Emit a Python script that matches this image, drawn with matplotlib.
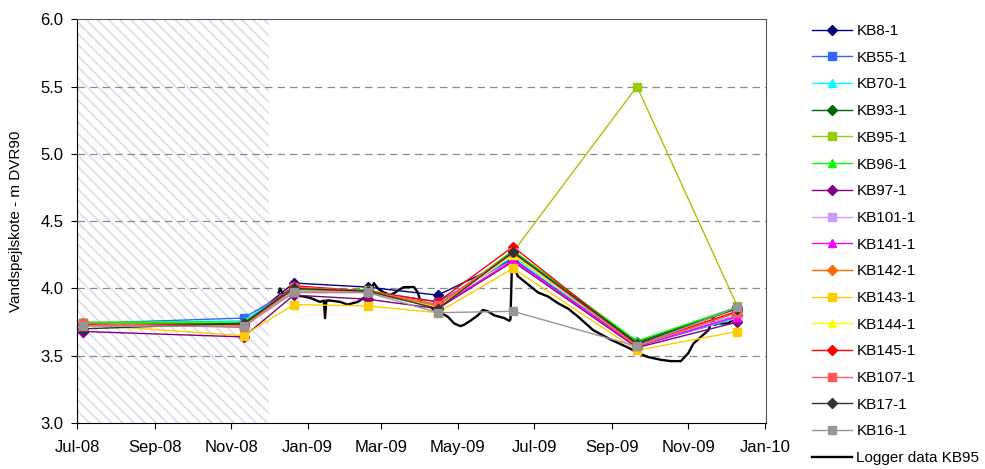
import matplotlib
matplotlib.use("Agg")
import matplotlib.pyplot as plt
import matplotlib.dates as mdates
import numpy as np
import pandas as pd

plt.rcParams['font.family'] = ['Liberation Sans', 'DejaVu Sans']
plt.rcParams['hatch.linewidth'] = 1.3

# measurement rounds
dates = pd.to_datetime(['2008-07-06', '2008-11-11', '2008-12-21', '2009-02-18',
                        '2009-04-15', '2009-06-14', '2009-09-21', '2009-12-10'])

kb8 = [3.73, 3.74, 4.04, 4.01, 3.95, 4.22, 3.57, 3.80]
kb55 = [3.74, 3.78, 4.00, 3.98, 3.90, 4.22, 3.57, 3.78]
kb70 = [3.74, 3.76, 4.00, 3.98, 3.88, 4.24, 3.58, 3.78]
kb93 = [3.74, 3.74, 3.99, 3.99, 3.86, 4.28, 3.60, 3.86]
kb95 = [3.74, 3.73, 3.98, 3.99, 3.87, 4.27, 5.50, 3.87]
kb96 = [3.75, 3.75, 3.99, 3.99, 3.87, 4.28, 3.61, 3.86]
kb97 = [3.68, 3.64, 3.95, 3.92, 3.85, 4.20, 3.56, 3.75]
kb101 = [3.73, 3.73, 3.98, 3.97, 3.86, 4.25, 3.58, 3.80]
kb141 = [3.73, 3.72, 3.97, 3.97, 3.86, 4.21, 3.57, 3.79]
kb142 = [3.73, 3.72, 4.00, 3.97, 3.87, 4.26, 3.58, 3.83]
kb143 = [3.73, 3.65, 3.88, 3.87, 3.82, 4.15, 3.54, 3.68]
kb144 = [3.73, 3.72, 3.97, 3.97, 3.86, 4.25, 3.58, 3.83]
kb145 = [3.73, 3.73, 4.02, 3.98, 3.90, 4.31, 3.58, 3.83]
kb107 = [3.74, 3.71, 4.01, 3.98, 3.88, 4.27, 3.57, 3.82]
kb17 = [3.70, 3.74, 4.00, 3.98, 3.85, 4.27, 3.59, 3.85]
kb16 = [3.72, 3.72, 3.97, 3.97, 3.82, 3.83, 3.57, 3.86]

# logger in KB95
logger_dates = pd.to_datetime([
    '2008-12-09', '2008-12-10', '2008-12-13', '2008-12-21', '2008-12-29', '2009-01-03',
    '2009-01-11', '2009-01-14', '2009-01-15', '2009-01-16', '2009-01-19', '2009-01-27',
    '2009-02-02', '2009-02-10', '2009-02-15', '2009-02-20', '2009-02-23', '2009-02-26',
    '2009-03-03', '2009-03-08', '2009-03-12', '2009-03-15', '2009-03-19', '2009-03-27',
    '2009-03-30', '2009-04-01', '2009-04-07', '2009-04-12', '2009-04-17', '2009-04-23',
    '2009-04-28', '2009-05-03', '2009-05-06', '2009-05-11', '2009-05-17', '2009-05-21',
    '2009-05-25', '2009-05-30', '2009-06-07', '2009-06-11', '2009-06-12', '2009-06-13',
    '2009-06-14', '2009-06-18', '2009-06-26', '2009-07-04', '2009-07-12', '2009-07-20',
    '2009-07-28', '2009-08-05', '2009-08-17', '2009-08-31', '2009-09-14', '2009-09-22',
    '2009-09-30', '2009-10-10', '2009-10-18', '2009-10-26', '2009-11-01', '2009-11-05',
    '2009-11-11', '2009-11-17', '2009-11-21', '2009-11-22', '2009-11-25', '2009-12-03',
    '2009-12-09'])
logger_vals = [
    3.97, 4.00, 3.95, 3.95, 3.94, 3.93,
    3.90, 3.91, 3.78, 3.91, 3.91, 3.90,
    3.88, 3.90, 3.93, 3.97, 4.04, 4.00,
    3.97, 3.95, 3.97, 3.99, 4.01, 4.01,
    3.97, 3.91, 3.88, 3.84, 3.82, 3.79,
    3.74, 3.72, 3.73, 3.76, 3.80, 3.84,
    3.83, 3.80, 3.78, 3.76, 3.77, 4.12,
    4.17, 4.09, 4.03, 3.97, 3.94, 3.89,
    3.85, 3.79, 3.69, 3.62, 3.56, 3.52,
    3.49, 3.47, 3.46, 3.46, 3.52, 3.59,
    3.64, 3.69, 3.79, 3.73, 3.74, 3.74,
    3.79]

series = [
    ('KB8-1', kb8, '#000080', 'D'),
    ('KB55-1', kb55, '#3366FF', 's'),
    ('KB70-1', kb70, '#00FFFF', '^'),
    ('KB93-1', kb93, '#006400', 'D'),
    ('KB95-1', kb95, '#99CC00', 's'),
    ('KB96-1', kb96, '#00FF00', '^'),
    ('KB97-1', kb97, '#800080', 'D'),
    ('KB101-1', kb101, '#CC99FF', 's'),
    ('KB141-1', kb141, '#FF00FF', '^'),
    ('KB142-1', kb142, '#FF6600', 'D'),
    ('KB143-1', kb143, '#FFCC00', 's'),
    ('KB144-1', kb144, '#FFFF00', '^'),
    ('KB145-1', kb145, '#FF0000', 'D'),
    ('KB107-1', kb107, '#FF5B5B', 's'),
    ('KB17-1', kb17, '#333333', 'D'),
    ('KB16-1', kb16, '#969696', 's'),
]

fig = plt.figure(figsize=(9.85, 4.69), dpi=100)
ax = fig.add_axes([0.0782, 0.098, 0.6995, 0.861])

# hatched period before start
ax.axvspan(pd.Timestamp('2008-07-01'), pd.Timestamp('2008-12-01'), facecolor='white',
           edgecolor='#DDDDF3', hatch='\\\\\\', linewidth=0, zorder=0)

for label, vals, col, mk in series:
    ms = 5.5 if mk == 'D' else 6
    ax.plot(dates, vals, color=col, marker=mk, markersize=ms, linewidth=1.0, label=label, zorder=3)

ax.plot(logger_dates, logger_vals, color='black', linewidth=1.7, label='Logger data KB95', zorder=2)

ax.set_ylim(3.0, 6.0)
ax.set_yticks(np.arange(3.0, 6.01, 0.5))
ax.yaxis.set_major_formatter(plt.FormatStrFormatter('%.1f'))
ax.set_xlim(pd.Timestamp('2008-07-01'), pd.Timestamp('2010-01-02'))
ax.xaxis.set_major_locator(mdates.MonthLocator(bymonth=[1, 3, 5, 7, 9, 11]))
ax.xaxis.set_major_formatter(mdates.DateFormatter('%b-%y'))

for y in [3.5, 4.0, 4.5, 5.0, 5.5]:
    ax.axhline(y, color='#8C8C8C', linestyle=(0, (6, 4)), linewidth=0.9, zorder=1)

ax.tick_params(axis='both', labelsize=12, direction='out', length=4, width=0.8)
ax.tick_params(axis='x', pad=8)
ax.tick_params(axis='y', pad=6)
ax.set_ylabel('Vandspejlskote - m DVR90', fontsize=11)
ax.yaxis.set_label_coords(-0.078, 0.5)
for s in ['left', 'bottom']:
    ax.spines[s].set_color('black')
for s in ['top', 'right']:
    ax.spines[s].set_color('#555555')

fig.legend(loc='upper left', bbox_to_anchor=(806 / 985, 1 - 18 / 469), frameon=False,
           fontsize=11, labelspacing=0.83, handlelength=2.6, handletextpad=0.3,
           borderaxespad=0)

fig.savefig('out.png', dpi=100)
